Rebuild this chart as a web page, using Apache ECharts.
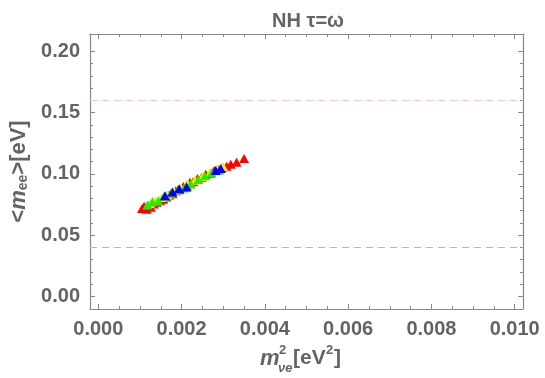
<!DOCTYPE html>
<html><head><meta charset="utf-8">
<script src="https://cdn.jsdelivr.net/npm/echarts@6/dist/echarts.min.js"></script>
<style>html,body{margin:0;padding:0;background:#fff}#c{width:545px;height:378px}</style>
</head><body><div id="c"></div>
<script>
// ---- data ----
const titleText = "NH τ=ω";
const xTickLabels = [0, 0.002, 0.004, 0.006, 0.008, 0.010];
const xMinorTicks = [0.0005,0.001,0.0015,0.0025,0.003,0.0035,0.0045,0.005,0.0055,0.0065,0.007,0.0075,0.0085,0.009,0.0095];
const yTickLabels = [0, 0.05, 0.10, 0.15, 0.20];
const yMinorTicks = [0.01,0.02,0.03,0.04,0.06,0.07,0.08,0.09,0.11,0.12,0.13,0.14,0.16,0.17,0.18,0.19];
const refLines = [0.158, 0.037];
const redPts = [[0.00105,0.0718],[0.0011,0.0735],[0.00116,0.0712],[0.00121,0.0742],[0.00126,0.0728],[0.00133,0.0755],[0.0014,0.0768],[0.00148,0.078],[0.00156,0.0792],[0.00163,0.0812],[0.0017,0.0828],[0.00178,0.0838],[0.00186,0.0862],[0.00195,0.0872],[0.00204,0.0898],[0.00212,0.0905],[0.0022,0.0932],[0.00228,0.0935],[0.00238,0.0962],[0.00248,0.0972],[0.00258,0.0998],[0.00268,0.1005],[0.00278,0.1028],[0.00288,0.1035],[0.00298,0.1052],[0.00308,0.1062],[0.00318,0.1078],[0.00332,0.1095],[0.0035,0.1125]];
const yellowPts = [[0.00124,0.0758],[0.00138,0.0782],[0.00152,0.0808],[0.00166,0.083],[0.00182,0.0858],[0.00198,0.0888],[0.00215,0.0918],[0.00232,0.0948],[0.0025,0.0978],[0.00268,0.1012],[0.00285,0.1042],[0.003,0.1058]];
const greenPts = [[0.00118,0.0745],[0.0013,0.0772],[0.00144,0.0778],[0.00158,0.0815],[0.00174,0.0842],[0.0019,0.0868],[0.00206,0.0885],[0.00222,0.0918],[0.0024,0.0955],[0.00256,0.0985],[0.00272,0.1008],[0.0029,0.1032]];
const bluePts = [[0.0016,0.0822],[0.00178,0.0852],[0.00194,0.0878],[0.00212,0.0892],[0.00282,0.1028],[0.00294,0.1045]];

// ---- chart ----
const FF = "'Liberation Sans', Arial, sans-serif";
const TXT = '#646464';
const FRAME = '#888888';
const XMIN = -0.0002, XMAX = 0.0102, YMIN = -0.0103, YMAX = 0.2142;

function xAx(pos, vals, len, line, labels) {
  return {
    type: 'value', position: pos, min: XMIN, max: XMAX,
    splitLine: {show: false},
    axisLine: {show: line, onZero: false, lineStyle: {color: FRAME, width: 1.2}},
    axisTick: {show: true, inside: true, length: len, customValues: vals, lineStyle: {color: FRAME, width: 1}},
    axisLabel: labels ? {show: true, customValues: vals, margin: 10, color: TXT, fontFamily: FF, fontWeight: 'bold', fontSize: 20,
      formatter: v => v.toFixed(3)} : {show: false}
  };
}
function yAx(pos, vals, len, line, labels, name) {
  const a = {
    type: 'value', position: pos, min: YMIN, max: YMAX,
    splitLine: {show: false},
    axisLine: {show: line, onZero: false, lineStyle: {color: FRAME, width: 1.2}},
    axisTick: {show: true, inside: true, length: len, customValues: vals, lineStyle: {color: FRAME, width: 1}},
    axisLabel: labels ? {show: true, customValues: vals, margin: 10, color: TXT, fontFamily: FF, fontWeight: 'bold', fontSize: 20,
      formatter: v => v.toFixed(2)} : {show: false}
  };
  if (name) {
    a.name = '<{i|m}{sub|ee}>[eV]';
    a.nameLocation = 'middle';
    a.nameRotate = 90;
    a.nameGap = 60;
    a.nameTextStyle = {color: TXT, fontFamily: FF, fontWeight: 'bold', fontSize: 22,
      rich: {i: {fontStyle: 'italic', fontWeight: 'bold', fontSize: 22, color: TXT, fontFamily: FF},
             sub: {fontSize: 14, fontWeight: 'bold', color: TXT, fontFamily: FF, verticalAlign: 'bottom', padding: [8,0,0,0]}}};
  }
  return a;
}

const chart = echarts.init(document.getElementById('c'), null, {renderer: 'canvas'});
const tri = (name, data, color) => ({
  name, type: 'scatter', data, symbol: 'triangle', symbolSize: [10, 9],
  itemStyle: {color, opacity: 1}, xAxisIndex: 0, yAxisIndex: 0, silent: true
});
const option = {
  animation: false,
  backgroundColor: '#ffffff',
  title: {text: titleText, left: 303, top: 6, textAlign: 'center',
    textStyle: {color: TXT, fontFamily: FF, fontWeight: 'bold', fontSize: 20}},
  grid: {left: 82, right: 22, top: 34, bottom: 69, containLabel: false},
  xAxis: [
    xAx('bottom', xTickLabels, 5, true, true),
    xAx('bottom', xMinorTicks, 3, false, false),
    xAx('top', xTickLabels, 5, true, false),
    xAx('top', xMinorTicks, 3, false, false)
  ],
  yAxis: [
    yAx('left', yTickLabels, 5, true, true, true),
    yAx('left', yMinorTicks, 3, false, false),
    yAx('right', yTickLabels, 5, true, false),
    yAx('right', yMinorTicks, 3, false, false)
  ],
  series: [
    {type: 'line', data: [], xAxisIndex: 0, yAxisIndex: 0, silent: true,
      markLine: {silent: true, symbol: 'none', label: {show: false},
        data: [
          {yAxis: refLines[0], lineStyle: {color: '#f7c4c8', type: [7, 5], width: 1.2}},
          {yAxis: refLines[1], lineStyle: {color: '#b8b8b8', type: [7, 5], width: 1.2}}
        ]}},
    tri('red', redPts, '#ff0000'),
    tri('yellow', yellowPts, '#ffee00'),
    tri('green', greenPts, '#22ee00'),
    tri('blue', bluePts, '#0000ff'),
    {type: 'scatter', data: [], xAxisIndex: 1, yAxisIndex: 1},
    {type: 'scatter', data: [], xAxisIndex: 2, yAxisIndex: 2},
    {type: 'scatter', data: [], xAxisIndex: 3, yAxisIndex: 3}
  ],
  graphic: [
    {type: 'group', left: 260, top: 344, children: [
      {type: 'text', x: 0, y: 6, style: {text: 'm', font: "italic bold 22px " + FF, fill: TXT}},
      {type: 'text', x: 19, y: 2, style: {text: '2', font: "bold 13px " + FF, fill: TXT}},
      {type: 'text', x: 18, y: 20, style: {text: 'νe', font: "italic bold 13px " + FF, fill: TXT}},
      {type: 'text', x: 33, y: 6, style: {text: '[eV', font: "bold 21px " + FF, fill: TXT}},
      {type: 'text', x: 66, y: 2, style: {text: '2', font: "bold 13px " + FF, fill: TXT}},
      {type: 'text', x: 74, y: 6, style: {text: ']', font: "bold 21px " + FF, fill: TXT}}
    ]}
  ]
};
chart.setOption(option);
</script></body></html>
